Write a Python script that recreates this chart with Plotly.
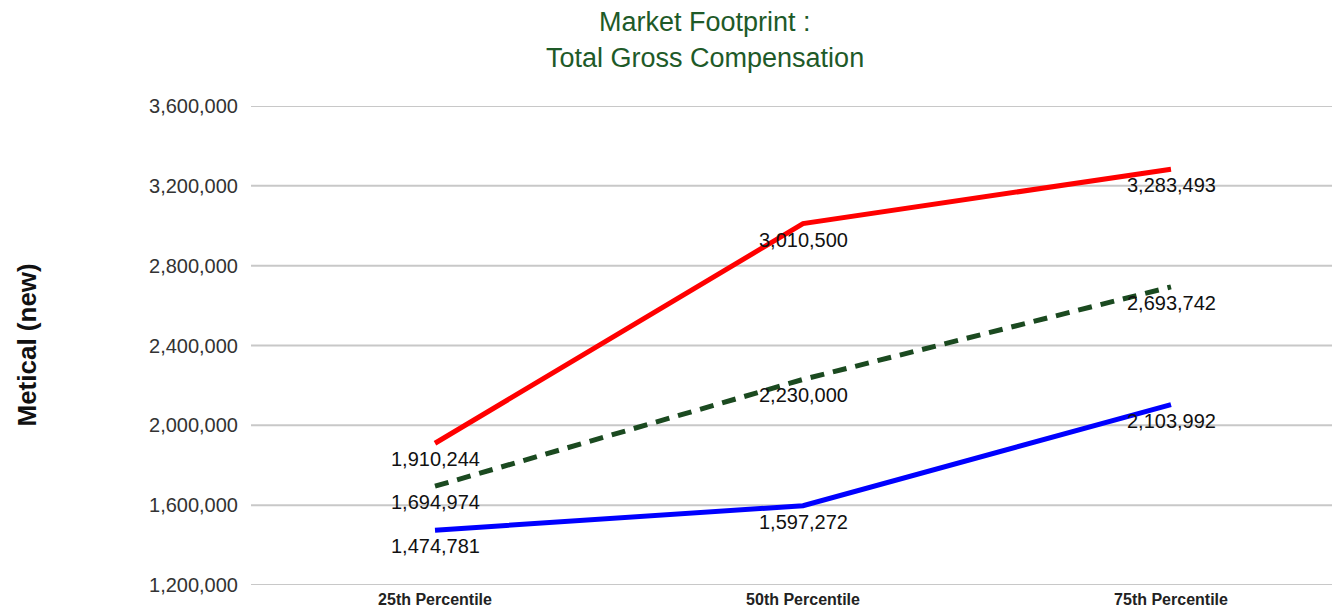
import plotly.graph_objects as go

categories = ["25th Percentile", "50th Percentile", "75th Percentile"]
red_values = [1910244, 3010500, 3283493]
green_values = [1694974, 2230000, 2693742]
blue_values = [1474781, 1597272, 2103992]
tick_values = [1200000, 1600000, 2000000, 2400000, 2800000, 3200000, 3600000]
tick_labels = ["1,200,000", "1,600,000", "2,000,000", "2,400,000", "2,800,000", "3,200,000", "3,600,000"]

W, H = 1332, 612
L, R, T, B = 251, 0, 106, 27
PW = W - L - R
FONT = "Liberation Sans, Arial"

fig = go.Figure()
annotations = []

def add(vals, color, dash, name):
    xs = list(range(len(categories)))
    fig.add_trace(go.Scatter(
        x=xs, y=vals, mode="lines", name=name,
        line=dict(color=color, width=5, dash=dash),
        showlegend=False,
    ))
    for xi, v in zip(xs, vals):
        annotations.append(dict(
            x=xi, y=v, xref="x", yref="y", text=f"{v:,}", showarrow=False,
            xanchor="center", yanchor="middle", yshift=-16,
            font=dict(family=FONT, size=20, color="#111111"),
        ))

add(red_values, "#ff0000", "solid", "High")
add(green_values, "#1b4a20", "14px,9px", "Median")
add(blue_values, "#0000ff", "solid", "Low")

# horizontal grid lines at every tick value (including the range edges)
shapes = [dict(type="line", xref="paper", x0=0, x1=1, yref="y", y0=tv, y1=tv,
               line=dict(color="#c8c8c8", width=2), layer="below")
          for tv in tick_values]

annotations += [
    dict(text="Market Footprint :", x=(705 - L) / PW, xref="paper", y=1, yref="paper",
         yshift=T - 22, showarrow=False, xanchor="center", yanchor="middle",
         font=dict(family=FONT, size=27, color="#1e5a28")),
    dict(text="Total Gross Compensation", x=(705 - L) / PW, xref="paper", y=1, yref="paper",
         yshift=T - 58, showarrow=False, xanchor="center", yanchor="middle",
         font=dict(family=FONT, size=27, color="#1e5a28")),
    dict(text="<b>Metical (new)</b>", textangle=-90,
         x=(26 - L) / PW, xref="paper", y=0.5, yref="paper",
         showarrow=False, xanchor="center", yanchor="middle",
         font=dict(family=FONT, size=26, color="#111111")),
]

fig.update_layout(
    width=W, height=H,
    margin=dict(l=L, r=R, t=T, b=B, autoexpand=False),
    plot_bgcolor="white", paper_bgcolor="white",
    xaxis=dict(
        range=[-0.5, -0.5 + PW / 368.0],
        tickvals=list(range(len(categories))), ticktext=categories,
        showgrid=False, zeroline=False, showline=False,
        tickfont=dict(family=FONT, size=16, color="#222222", weight="bold"),
        ticks="", ticklen=0, ticklabelstandoff=3,
    ),
    yaxis=dict(
        range=[1200000, 3600000],
        tickvals=tick_values, ticktext=tick_labels,
        showgrid=False, zeroline=False, showline=False,
        tickfont=dict(family=FONT, size=20, color="#333333"),
        ticks="", ticklabelstandoff=12,
    ),
    shapes=shapes,
    annotations=annotations,
)

fig.write_html(
    "out.html",
    config={"displayModeBar": False},
    post_script="document.body.style.margin='0';document.body.style.overflow='hidden';",
)
